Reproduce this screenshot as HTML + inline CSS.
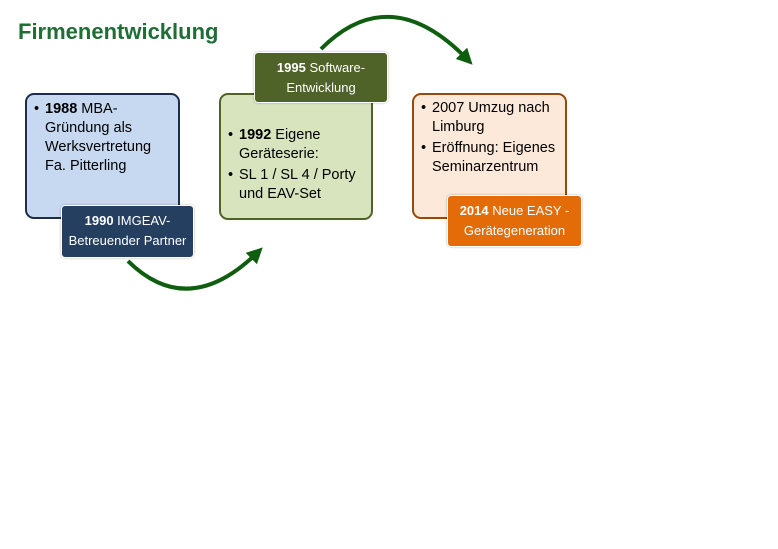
<!DOCTYPE html>
<html><head><meta charset="utf-8"><style>
body{margin:0;width:778px;height:549px;background:#fff;position:relative;overflow:hidden;font-family:"Liberation Sans",Calibri,sans-serif}
.t{position:absolute;left:18px;top:19px;font-size:22px;font-weight:bold;color:#1f6e36}
.b{position:absolute;box-sizing:border-box;border-radius:9px;border:2px solid;font-size:14.5px;line-height:19px;color:#000;padding:4px 6px 0 6px}
.b ul{margin:0;padding:0 0 0 12px;list-style:none}
.b li{position:relative;margin-bottom:2px}
.b li:before{content:"•";position:absolute;left:-11px}
.l{position:absolute;box-sizing:border-box;border-radius:4px;border:1.5px solid #fff;color:#fff;font-size:13px;line-height:20px;text-align:center;padding-top:5px;box-shadow:0 0 2px rgba(0,0,0,.3)}
</style></head><body>
<div class="t">Firmenentwicklung</div>
<svg width="778" height="549" style="position:absolute;left:0;top:0">
<defs><marker id="a" markerWidth="4" markerHeight="4" refX="2" refY="2" orient="auto"><path d="M0,0 L4,2 L0,4 z" fill="#0f5e0f"/></marker></defs>
<path d="M128,261 Q188,320 257,253" stroke="#0f5e0f" stroke-width="4" fill="none" marker-end="url(#a)"/>
<path d="M321,49 Q390,-20 467,59" stroke="#0f5e0f" stroke-width="4" fill="none" marker-end="url(#a)"/>
</svg>
<div class="b" style="left:25px;top:93px;width:155px;height:126px;background:#c6d9f0;border-color:#1f2d4d;padding-top:5px"><ul><li><b>1988</b> MBA-Gründung als Werksvertretung Fa. Pitterling</li></ul></div>
<div class="l" style="left:61px;top:205px;width:133px;height:53px;background:#243f60"><b>1990</b> IMGEAV-<br>Betreuender Partner</div>
<div class="b" style="left:219px;top:93px;width:154px;height:127px;background:#d7e4bd;border-color:#4f6228;padding-top:31px"><ul><li><b>1992</b> Eigene Geräteserie:</li><li>SL 1 / SL 4 / Porty und EAV-Set</li></ul></div>
<div class="l" style="left:254px;top:52px;width:134px;height:51px;background:#4f6228"><b>1995</b> Software-<br>Entwicklung</div>
<div class="b" style="left:412px;top:93px;width:155px;height:126px;background:#fde9d9;border-color:#984807"><ul><li>2007 Umzug nach Limburg</li><li>Eröffnung: Eigenes Seminarzentrum</li></ul></div>
<div class="l" style="left:447px;top:195px;width:135px;height:52px;background:#e36c09"><b>2014</b> Neue EASY -<br>Gerätegeneration</div>
</body></html>
